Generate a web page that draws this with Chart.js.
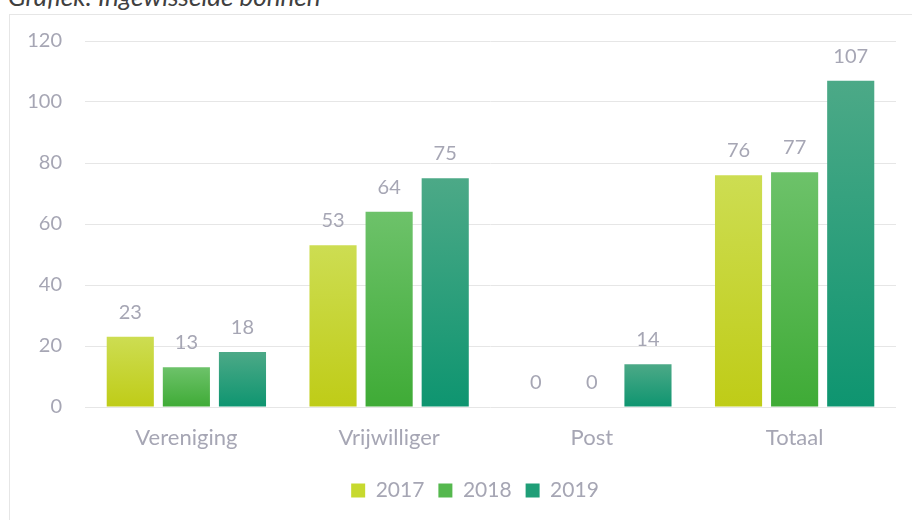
<!DOCTYPE html>
<html>
<head>
<meta charset="utf-8">
<script src="https://cdn.jsdelivr.net/npm/chart.js@4.4.1/dist/chart.umd.min.js"></script>
<style>
    html, body { margin: 0; padding: 0; width: 912px; height: 520px; overflow: hidden; background: #fff; }
    #frame { position: absolute; left: 9px; top: 14px; width: 960px; height: 560px; border: 1px solid #e6e6e6; }
    #title { position: absolute; left: 8px; top: -20px; font: italic 26px Lato, sans-serif; color: #404040; white-space: nowrap; }
    #wrap { position: absolute; left: 0; top: 0; width: 912px; height: 520px; }
</style>
</head>
<body>
<div id="frame"></div>
<div id="title">Grafiek: Ingewisselde bonnen</div>
<div id="wrap"><canvas id="chart"></canvas></div>
<script>
// --- Data ---
const categories = ['Vereniging', 'Vrijwilliger', 'Post', 'Totaal'];
const years = ['2017', '2018', '2019'];
const values2017 = [23, 53, 0, 76];
const values2018 = [13, 64, 0, 77];
const values2019 = [18, 75, 14, 107];
const yTicks = [0, 20, 40, 60, 80, 100, 120];

// top / bottom colours of each bar gradient
const gradColors = [
    ['#cddd52', '#bfcc17'],
    ['#6dc26a', '#3fab36'],
    ['#4ca987', '#0e9570']
];
const legendColors = ['#c7d92e', '#55b84e', '#1f9e77'];
const textGray = '#a6a6b4';

// Builds a vertical gradient spanning a single bar
function barGradient(idx) {
    return (ctx) => {
        const chart = ctx.chart;
        const y = chart.scales && chart.scales.y;
        if (!y || ctx.raw === undefined) return gradColors[idx][1];
        const top = y.getPixelForValue(ctx.raw);
        const base = y.getPixelForValue(0);
        if (base - top < 1) return gradColors[idx][1];
        const g = chart.ctx.createLinearGradient(0, top, 0, base);
        g.addColorStop(0, gradColors[idx][0]);
        g.addColorStop(1, gradColors[idx][1]);
        return g;
    };
}

// Value labels above the bars
const valueLabels = {
    id: 'valueLabels',
    afterDatasetsDraw(chart) {
        const ctx = chart.ctx;
        ctx.save();
        ctx.font = '20px Lato, sans-serif';
        ctx.fillStyle = textGray;
        ctx.textAlign = 'center';
        ctx.textBaseline = 'alphabetic';
        chart.data.datasets.forEach((ds, i) => {
            chart.getDatasetMeta(i).data.forEach((bar, j) => {
                ctx.fillText(String(ds.data[j]), bar.x, bar.y - 18);
            });
        });
        ctx.restore();
    }
};

// legend sits a bit right of the plot centre in the original
const legendShift = {
    id: 'legendShift',
    afterLayout(chart) {
        if (chart.legend) {
            chart.legend.left += 27;
            chart.legend.right += 27;
        }
    }
};

const seriesList = [values2017, values2018, values2019];

new Chart(document.getElementById('chart'), {
    type: 'bar',
    data: {
        labels: categories,
        datasets: seriesList.map((vals, i) => ({
            label: years[i],
            data: vals,
            backgroundColor: barGradient(i),
            borderWidth: 0,
            categoryPercentage: 0.83,
            barPercentage: 0.84
        }))
    },
    options: {
        responsive: true,
        maintainAspectRatio: false,
        animation: false,
        layout: { padding: { left: 0, right: 16, top: 41, bottom: 9 } },
        scales: {
            y: {
                min: 0,
                max: 120,
                afterBuildTicks: (s) => { s.ticks = yTicks.map(v => ({ value: v })); },
                afterFit: (s) => { s.width = 85; },
                border: { display: false },
                grid: { color: '#e6e6e6', lineWidth: 1, drawTicks: false },
                ticks: { color: textGray, padding: 23, font: { family: 'Lato', size: 20 } }
            },
            x: {
                afterFit: (s) => { s.height = 59; },
                border: { display: false },
                grid: { display: false, drawTicks: false },
                ticks: { color: textGray, padding: 18, font: { family: 'Lato', size: 22 } }
            }
        },
        plugins: {
            legend: {
                position: 'bottom',
                labels: {
                    color: textGray,
                    font: { family: 'Lato', size: 21 },
                    boxWidth: 14,
                    boxHeight: 14,
                    padding: 14,
                    generateLabels: (chart) => years.map((y, i) => ({
                        text: y,
                        fillStyle: legendColors[i],
                        strokeStyle: legendColors[i],
                        lineWidth: 0,
                        fontColor: textGray,
                        datasetIndex: i,
                        hidden: false
                    }))
                }
            },
            tooltip: { enabled: false }
        }
    },
    plugins: [valueLabels, legendShift]
});
</script>
</body>
</html>
